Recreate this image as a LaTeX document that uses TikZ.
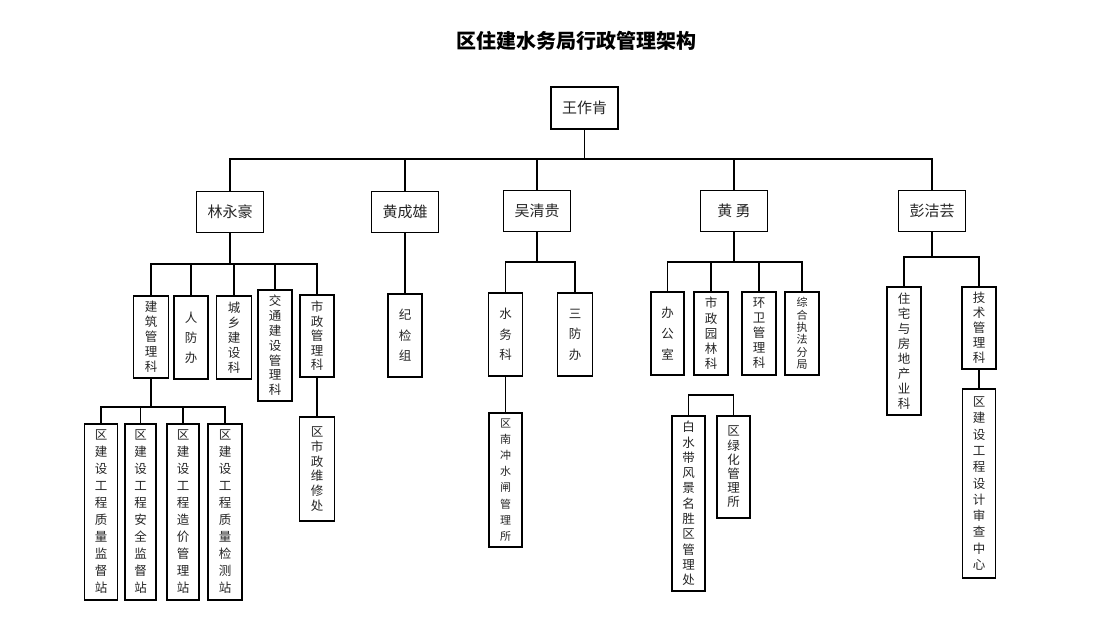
\documentclass[tikz,border=0pt]{standalone}
\usepackage{fontspec}
\newfontfamily\cjk{Noto Sans CJK SC}
\tikzset{
  bx/.style={draw=black, line width=1.2pt, inner sep=0pt, align=center, text=black!85},
  hbox/.style={bx, minimum width=67pt, minimum height=41pt, font=\cjk\fontsize{15}{18}\selectfont},
  vbox/.style 2 args={bx, minimum width=#1pt, minimum height=#2pt},
  vf/.style={font=\cjk\fontsize{12.5}{#1}\selectfont},
  sf/.style={font=\cjk\fontsize{11}{#1}\selectfont},
  ln/.style={line width=1.2pt, draw=black}
}
\begin{document}
\begin{tikzpicture}[x=1pt,y=-1pt]
\fill[white] (0,0) rectangle (1094,642);
\useasboundingbox (0,0) rectangle (1094,642);

% title
\node[font=\cjk\bfseries\fontsize{20}{24}\selectfont, text=black] (title) at (576,41) {区住建水务局行政管理架构};

% level 0 and 1
\node[hbox, minimum height=42pt] (top) at (584.5,108) {王作肯};
\node[hbox] (lin) at (230,212) {林永豪};
\node[hbox] (hcx) at (405,212) {黄成雄};
\node[hbox] (wqg) at (537,211) {吴清贵};
\node[hbox] (hy)  at (734,211) {黄 勇};
\node[hbox] (pjy) at (932,211) {彭洁芸};

\coordinate (mbus) at (584.5,159);
\draw[ln] (top.south) -- (top.south |- mbus);
\draw[ln] (lin.north) |- (pjy.north |- mbus) -- (pjy.north);
\draw[ln] (hcx.north) -- (hcx.north |- mbus);
\draw[ln] (wqg.north) -- (wqg.north |- mbus);
\draw[ln] (hy.north) -- (hy.north |- mbus);

% ---------- 林永豪 ----------
\node[vbox={35}{82}, vf=15]   (jz) at (151,337)   {建\\筑\\管\\理\\科};
\node[vbox={34}{83}, vf=20]   (rf) at (191,337.5) {人\\防\\办};
\node[vbox={35}{83}, vf=15]   (cx) at (234,337.5) {城\\乡\\建\\设\\科};
\node[vbox={34}{111}, vf=14.8] (jt) at (275,345.5) {交\\通\\建\\设\\管\\理\\科};
\node[vbox={34}{82}, vf=14.5] (sz) at (317,336)   {市\\政\\管\\理\\科};

\coordinate (lbus) at (230,264);
\draw[ln] (lin.south) -- (lin.south |- lbus);
\draw[ln] (jz.north) |- (sz.north |- lbus) -- (sz.north);
\draw[ln] (rf.north) -- (rf.north |- lbus);
\draw[ln] (cx.north) -- (cx.north |- lbus);
\draw[ln] (jt.north) -- (jt.north |- lbus);

\node[vbox={33}{176}, vf=17] (a1) at (101,512)   {区\\建\\设\\工\\程\\质\\量\\监\\督\\站};
\node[vbox={31}{176}, vf=17] (a2) at (140.5,512) {区\\建\\设\\工\\程\\安\\全\\监\\督\\站};
\node[vbox={32}{176}, vf=17] (a3) at (183,512)   {区\\建\\设\\工\\程\\造\\价\\管\\理\\站};
\node[vbox={34}{176}, vf=17] (a4) at (225,512)   {区\\建\\设\\工\\程\\质\\量\\检\\测\\站};

\coordinate (abus) at (151,407);
\draw[ln] (jz.south) -- (jz.south |- abus);
\draw[ln] (a1.north) |- (a4.north |- abus) -- (a4.north);
\draw[ln] (a2.north) -- (a2.north |- abus);
\draw[ln] (a3.north) -- (a3.north |- abus);

\node[vbox={35}{104}, vf=14.7] (smz) at (317,469) {区\\市\\政\\维\\修\\处};
\draw[ln] (sz.south) -- (smz.north);

% ---------- 黄成雄 ----------
\node[vbox={34}{83}, vf=20.5] (jjz) at (405,335.5) {纪\\检\\组};
\draw[ln] (hcx.south) -- (jjz.north);

% ---------- 吴清贵 ----------
\node[vbox={34}{83}, vf=20.5] (swk) at (505.5,334.5) {水\\务\\科};
\node[vbox={35}{83}, vf=20.5] (sfb) at (575,334.5)   {三\\防\\办};
\coordinate (wbus) at (537,262);
\draw[ln] (wqg.south) -- (wqg.south |- wbus);
\draw[ln] (swk.north) |- (sfb.north |- wbus) -- (sfb.north);

\node[vbox={33}{134}, sf=16.2] (nc) at (505.5,480) {区\\南\\冲\\水\\闸\\管\\理\\所};
\draw[ln] (swk.south) -- (nc.north);

% ---------- 黄勇 ----------
\node[vbox={33}{83}, vf=21]   (bgs) at (667.5,333.5) {办\\公\\室};
\node[vbox={34}{83}, vf=15.3] (yl)  at (711,333.5)   {市\\政\\园\\林\\科};
\node[vbox={34}{83}, vf=15]   (hw)  at (759,333.5)   {环\\卫\\管\\理\\科};
\node[vbox={34}{83}, sf=12.3] (zh)  at (802,333.5)   {综\\合\\执\\法\\分\\局};
\coordinate (hbus) at (734,262);
\draw[ln] (hy.south) -- (hy.south |- hbus);
\draw[ln] (bgs.north) |- (zh.north |- hbus) -- (zh.north);
\draw[ln] (yl.north) -- (yl.north |- hbus);
\draw[ln] (hw.north) -- (hw.north |- hbus);

\node[vbox={33}{175}, vf=15.3] (bsd) at (688.5,503.5) {白\\水\\带\\风\\景\\名\\胜\\区\\管\\理\\处};
\node[vbox={33}{102}, vf=14.2] (lh)  at (733.5,467)   {区\\绿\\化\\管\\理\\所};
\coordinate (gbus) at (711,395);
\draw[ln] (bsd.north) |- (lh.north |- gbus) -- (lh.north);

% ---------- 彭洁芸 ----------
\node[vbox={34}{128}, vf=15] (zz) at (904,351) {住\\宅\\与\\房\\地\\产\\业\\科};
\node[vbox={34}{82}, vf=15]  (js) at (979,328) {技\\术\\管\\理\\科};
\coordinate (pbus) at (932,257);
\draw[ln] (pjy.south) -- (pjy.south |- pbus);
\draw[ln] (zz.north) |- (js.north |- pbus) -- (js.north);

\node[vbox={33}{189}, vf=16.3] (sc) at (979,483.5) {区\\建\\设\\工\\程\\设\\计\\审\\查\\中\\心};
\draw[ln] (js.south) -- (sc.north);
\end{tikzpicture}
\end{document}
